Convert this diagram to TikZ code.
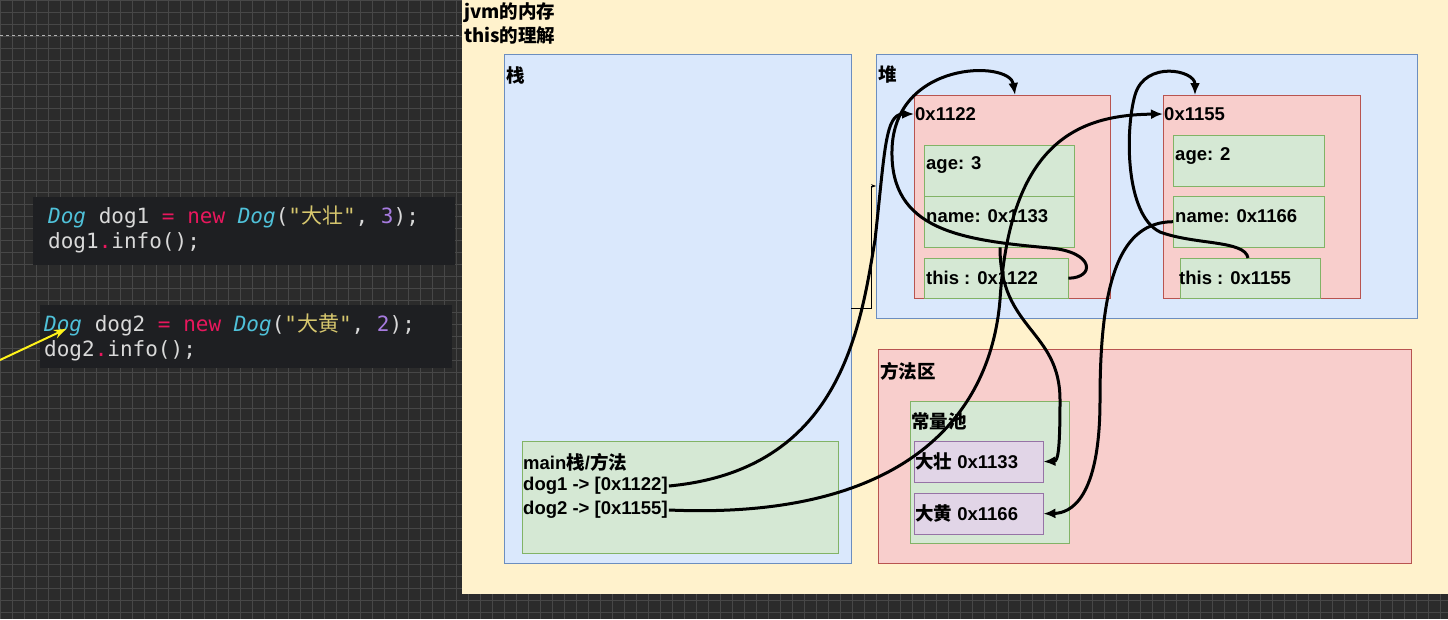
\documentclass[tikz,border=0pt]{standalone}
\usepackage{fontspec}
\setmainfont{Liberation Sans}
\newfontfamily\cjk{Noto Sans CJK SC}
\newfontfamily\codefont{DejaVu Sans Mono}
\usetikzlibrary{arrows.meta,positioning}
\definecolor{bgdark}{HTML}{2B2B2B}
\definecolor{gridc}{HTML}{474747}
\definecolor{codebg}{HTML}{1E1F22}
\definecolor{panel}{HTML}{FFF2CC}
\definecolor{panelline}{HTML}{D6B656}
\definecolor{bluef}{HTML}{DAE8FC}
\definecolor{bluel}{HTML}{6C8EBF}
\definecolor{redf}{HTML}{F8CECC}
\definecolor{redl}{HTML}{B85450}
\definecolor{greenf}{HTML}{D5E8D4}
\definecolor{greenl}{HTML}{82B366}
\definecolor{purf}{HTML}{E1D5E7}
\definecolor{purl}{HTML}{9673A6}
\definecolor{kwtype}{HTML}{4FC1D9}
\definecolor{kwnew}{HTML}{E8175D}
\definecolor{kwstr}{HTML}{D7C76E}
\definecolor{kwnum}{HTML}{A77BE0}
\tikzset{
  area/.style={draw=bluel, fill=bluef, anchor=north west, inner sep=0pt},
  object/.style={draw=redl, fill=redf, anchor=north west, inner sep=0pt},
  field/.style={draw=greenl, fill=greenf, anchor=north west, inner sep=0pt},
  constant/.style={draw=purl, fill=purf, anchor=north west, inner sep=0pt},
  caption/.style={anchor=west, inner sep=1pt, font=\bfseries\fontsize{18.5}{21}\selectfont},
  code/.style={anchor=west, inner sep=0pt, text=white!85!black, font=\codefont\fontsize{21}{24}\selectfont},
  ref/.style={-{Latex[length=12pt,width=10pt]}, line width=3pt, black},
}
\begin{document}
\begin{tikzpicture}[x=1pt,y=-1pt]
  \useasboundingbox (0,0) rectangle (1448,619);
  \fill[bgdark] (0,0) rectangle (1448,619);
  \foreach \x in {0,12,...,1448} {\draw[gridc, line width=0.8pt] (\x,0) -- (\x,619);}
  \foreach \y in {0,12,...,619} {\draw[gridc, line width=0.8pt] (0,\y) -- (1448,\y);}
  \draw[white!70!black, dashed, line width=0.8pt] (0,35) -- (462,35);
  % code
  \fill[codebg] (33,197) rectangle (455,265);
  \fill[codebg] (40,305) rectangle (452,368);
  \node[code] (line1) at (48,217) {\textcolor{kwtype}{\itshape Dog} dog1 \textcolor{kwnew}{=} \textcolor{kwnew}{new} \textcolor{kwtype}{\itshape Dog}(\textcolor{kwstr}{"{\cjk 大壮}"}, \textcolor{kwnum}{3});};
  \node[code] (line2) at (48,243) {dog1\textcolor{kwnew}{.}info();};
  \node[code] (line3) at (44,325) {\textcolor{kwtype}{\itshape Dog} dog2 \textcolor{kwnew}{=} \textcolor{kwnew}{new} \textcolor{kwtype}{\itshape Dog}(\textcolor{kwstr}{"{\cjk 大黄}"}, \textcolor{kwnum}{2});};
  \node[code] (line4) at (44,351) {dog2\textcolor{kwnew}{.}info();};
  \coordinate (pointer) at (0,360);
  \draw[-{Stealth[length=12pt]}, yellow!90!white, line width=2pt] (pointer) -- (66,329);
  % jvm panel
  \fill[panel] (462,0) rectangle (1448,594);
  \node[caption, anchor=north west, align=left, font=\bfseries\cjk\fontsize{18.5}{24}\selectfont] (title) at (463,1) {jvm的内存\\this的理解};
  \node[area, minimum width=347, minimum height=509] (stack) at (504,54) {};
  \node[caption] at (505,75) {\cjk 栈};
  \node[field, minimum width=316, minimum height=112] (main) at (522,441) {};
  \node[caption] at (522,462) {main{\cjk 栈}/{\cjk 方法}};
  \node[caption] (dog1) at (522,486) {dog1 -> [0x1122]};
  \node[caption] (dog2) at (522,510) {dog2 -> [0x1155]};
  \node[area, minimum width=541, minimum height=264] (heap) at (876,54) {};
  \node[caption] at (877,75) {\cjk 堆};
  \node[object, minimum width=196, minimum height=203] (obj1) at (914,95) {};
  \node[caption] (addr1) at (914,114) {0x1122};
  \node[field, minimum width=150, minimum height=51] (age1) at (924,145) {};
  \node[field, minimum width=150, minimum height=51] (name1) at (924,196) {};
  \node[field, minimum width=144, minimum height=40] (this1) at (924,258) {};
  \node[caption] at (925,165) {age: 3};
  \node[caption] at (925,216) {name: 0x1133};
  \node[caption] at (925,278) {this : 0x1122};
  \node[object, minimum width=197, minimum height=203] (obj2) at (1163,95) {};
  \node[caption] (addr2) at (1163,114) {0x1155};
  \node[field, minimum width=151, minimum height=51] (age2) at (1173,135) {};
  \node[field, minimum width=151, minimum height=51] (name2) at (1173,196) {};
  \node[field, minimum width=140, minimum height=40] (this2) at (1180,258) {};
  \node[caption] at (1174,156) {age: 2};
  \node[caption] at (1174,216) {name: 0x1166};
  \node[caption] at (1178,278) {this : 0x1155};
  \node[object, minimum width=533, minimum height=214] (method) at (878,349) {};
  \node[caption] at (879,371) {\cjk 方法区};
  \node[field, minimum width=159, minimum height=142] (pool) at (910,401) {};
  \node[caption] at (910,421) {\cjk 常量池};
  \node[constant, minimum width=129, minimum height=41] (str1) at (914,441) {};
  \node[caption] at (914,461) {{\cjk 大壮} 0x1133};
  \node[constant, minimum width=129, minimum height=41] (str2) at (914,493) {};
  \node[caption] at (914,513) {{\cjk 大黄} 0x1166};
  % connectors
  \draw[-{Stealth[length=5pt]}, line width=0.8pt] (stack.east |- 0,308) -- (871,308) -- (871,186) -- (heap.west |- 0,186);
  \draw[ref] (dog1.east) .. controls (840,470) and (860,330) .. (875,240) .. controls (885,150) and (885,114) .. (addr1.west);
  \draw[ref] (dog2.east) .. controls (900,520) and (990,420) .. (1000,300) .. controls (1010,140) and (1080,115) .. (addr2.west);
  \draw[ref] (this1.east) .. controls (1095,278) and (1095,252) .. (1050,248) .. controls (960,240) and (890,230) .. (892,150) .. controls (894,60) and (1010,60) .. (obj1.north -| 1015,0);
  \draw[ref] (this2.north -| 1248,0) .. controls (1245,240) and (1195,245) .. (1160,232) .. controls (1125,215) and (1125,130) .. (1135,95) .. controls (1145,60) and (1195,70) .. (obj2.north -| 1195,0);
  \draw[ref] (name1.south -| 1000,0) .. controls (1000,330) and (1060,330) .. (1060,400) .. controls (1060,450) and (1058,461) .. (str1.east);
  \draw[ref] (name2.west) .. controls (1120,222) and (1100,280) .. (1100,400) .. controls (1100,500) and (1070,513) .. (str2.east);
\end{tikzpicture}
\end{document}
